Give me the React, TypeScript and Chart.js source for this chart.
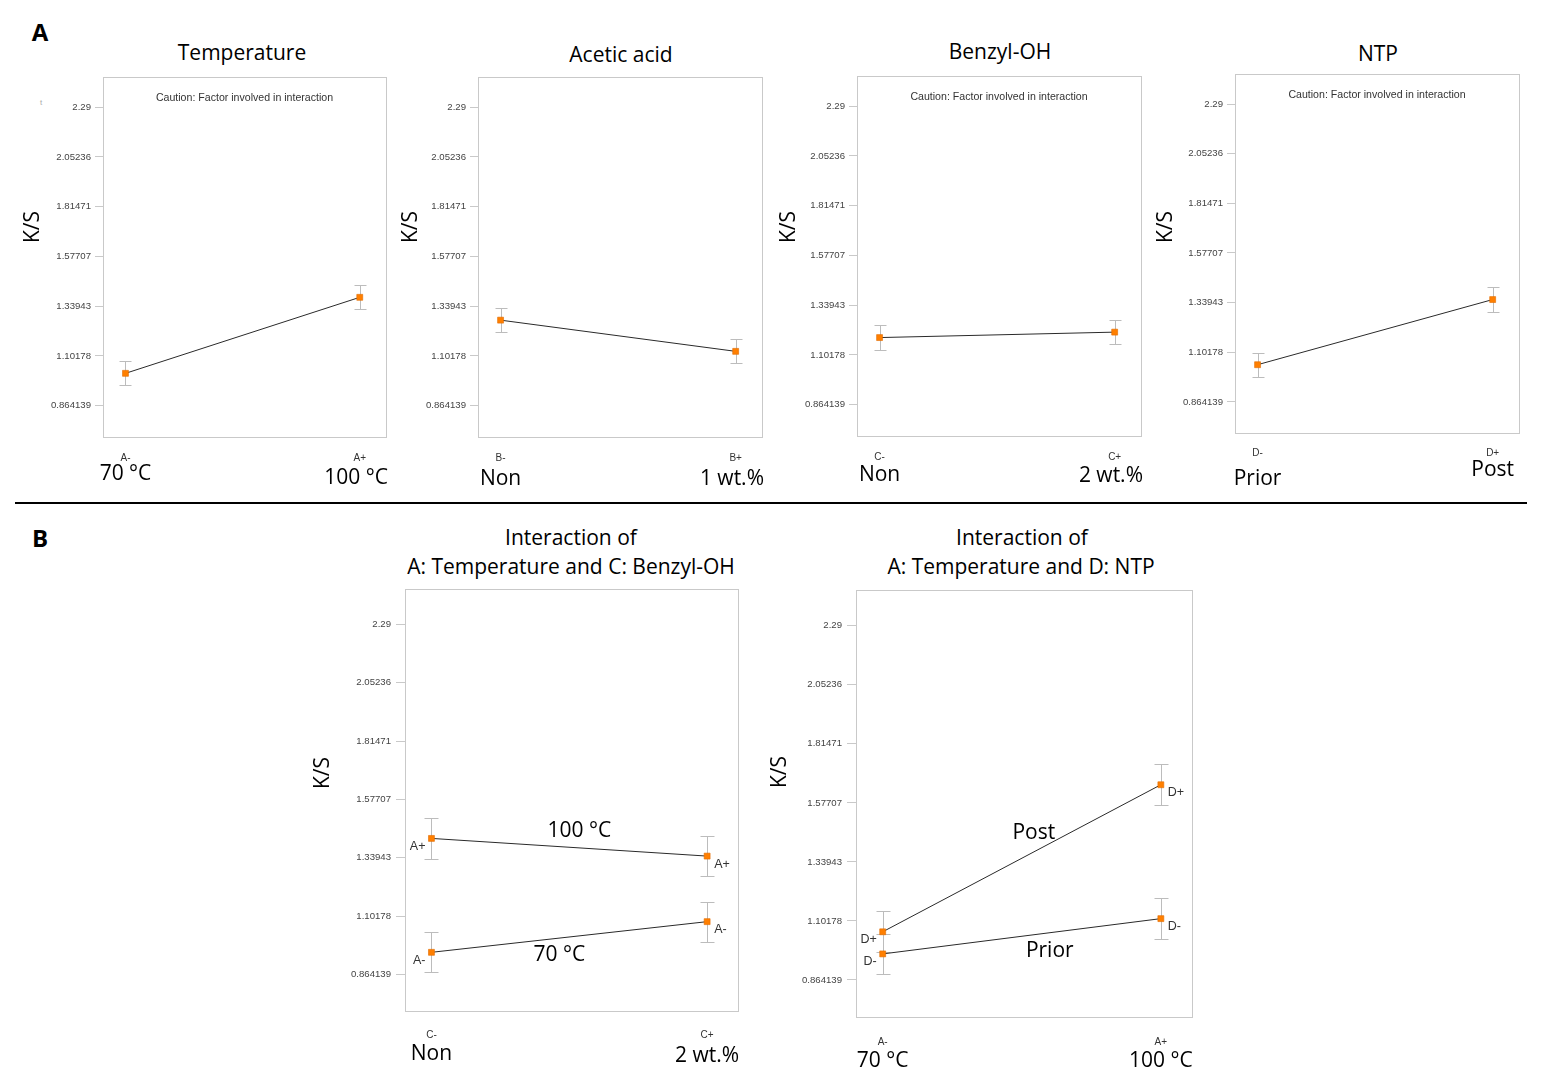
import React, { useEffect, useRef } from 'react';
import { Chart, registerables } from 'chart.js';

Chart.register(...registerables);

// ---------------- data ----------------
const yTickValues = [0.864139, 1.10178, 1.33943, 1.57707, 1.81471, 2.05236, 2.29];
const yTickLabels = ['0.864139', '1.10178', '1.33943', '1.57707', '1.81471', '2.05236', '2.29'];
const yMin = 0.715;
const yMax = 2.434;

const temperatureLevels = ['A-', 'A+'];
const temperatureNames = ['70 °C', '100 °C'];
const temperatureKS = [1.019, 1.382];
const temperatureErr = [0.058, 0.058];

const aceticLevels = ['B-', 'B+'];
const aceticNames = ['Non', '1 wt.%'];
const aceticKS = [1.273, 1.124];
const aceticErr = [0.058, 0.058];

const benzylLevels = ['C-', 'C+'];
const benzylNames = ['Non', '2 wt.%'];
const benzylKS = [1.185, 1.211];
const benzylErr = [0.058, 0.058];

const ntpLevels = ['D-', 'D+'];
const ntpNames = ['Prior', 'Post'];
const ntpKS = [1.042, 1.354];
const ntpErr = [0.058, 0.058];

// Interaction A x C (x axis: C-, C+)
const acHighTempKS = [1.418, 1.346]; // A+
const acLowTempKS = [0.954, 1.079]; // A-
const acErr = [0.082, 0.082];

// Interaction A x D (x axis: A-, A+)
const adPostKS = [1.058, 1.65]; // D+
const adPriorKS = [0.969, 1.111]; // D-
const adErr = [0.082, 0.082];

const cautionText = 'Caution: Factor involved in interaction';

// ---------------- layout ----------------
const PAD_L = 100;
const PAD_R = 22;
const PAD_T = 12;
const PAD_B = 72;
const FONT_BIG = '"Open Sans", "Noto Sans", sans-serif';
const FONT_SMALL = '"Liberation Sans", Arial, sans-serif';

type Series = {
  values: number[];
  errors: number[];
  tags?: string[];
  lineTag?: string;
  lineDx?: number;
  lineDy?: number;
};

type PanelCfg = {
  key: string;
  box: { left: number; top: number; w: number; h: number };
  levels: string[];
  names: string[];
  series: Series[];
  caution: boolean;
  ksX: number;
  ksY: number;
  xTickPad: number;
  bigDy: number[];
  yTickLen: number;
  yTickPad: number;
  cap: number;
};

const panels: PanelCfg[] = [
  {
    key: 'temp', box: { left: 103, top: 77, w: 283, h: 360 }, levels: temperatureLevels, names: temperatureNames,
    series: [{ values: temperatureKS, errors: temperatureErr }], caution: true, ksX: 33, ksY: 227,
    xTickPad: 15, bigDy: [37, 41], yTickLen: 8, yTickPad: 4, cap: 6,
  },
  {
    key: 'acetic', box: { left: 478, top: 77, w: 284, h: 360 }, levels: aceticLevels, names: aceticNames,
    series: [{ values: aceticKS, errors: aceticErr }], caution: false, ksX: 411, ksY: 227,
    xTickPad: 15, bigDy: [42, 42], yTickLen: 8, yTickPad: 4, cap: 6,
  },
  {
    key: 'benzyl', box: { left: 857, top: 76, w: 284, h: 360 }, levels: benzylLevels, names: benzylNames,
    series: [{ values: benzylKS, errors: benzylErr }], caution: true, ksX: 789, ksY: 227,
    xTickPad: 15, bigDy: [39, 40], yTickLen: 8, yTickPad: 4, cap: 6,
  },
  {
    key: 'ntp', box: { left: 1235, top: 74, w: 284, h: 359 }, levels: ntpLevels, names: ntpNames,
    series: [{ values: ntpKS, errors: ntpErr }], caution: true, ksX: 1166, ksY: 227,
    xTickPad: 14, bigDy: [46, 37], yTickLen: 8, yTickPad: 4, cap: 6,
  },
  {
    key: 'ac', box: { left: 405, top: 589, w: 333, h: 422 }, levels: benzylLevels, names: benzylNames,
    series: [
      { values: acHighTempKS, errors: acErr, tags: [temperatureLevels[1], temperatureLevels[1]], lineTag: temperatureNames[1], lineDx: 10, lineDy: -16 },
      { values: acLowTempKS, errors: acErr, tags: [temperatureLevels[0], temperatureLevels[0]], lineTag: temperatureNames[0], lineDx: -10, lineDy: 18 },
    ],
    caution: false, ksX: 323, ksY: 773, xTickPad: 18, bigDy: [43, 45], yTickLen: 9, yTickPad: 5, cap: 7,
  },
  {
    key: 'ad', box: { left: 856, top: 590, w: 336, h: 427 }, levels: temperatureLevels, names: temperatureNames,
    series: [
      { values: adPostKS, errors: adErr, tags: [ntpLevels[1], ntpLevels[1]], lineTag: ntpNames[1], lineDx: 12, lineDy: -25 },
      { values: adPriorKS, errors: adErr, tags: [ntpLevels[0], ntpLevels[0]], lineTag: ntpNames[0], lineDx: 28, lineDy: 15 },
    ],
    caution: false, ksX: 780, ksY: 772, xTickPad: 19, bigDy: [44, 44], yTickLen: 9, yTickPad: 5, cap: 7,
  },
];

// ---------------- plugin ----------------
const decorPlugin = {
  id: 'decor',
  beforeDatasetsDraw(chart: any, _args: any, opts: any) {
    const { ctx, chartArea: a, scales } = chart;
    const ys = scales.y;
    ctx.save();
    ctx.strokeStyle = '#c9c9c9';
    ctx.lineWidth = 1;
    ctx.strokeRect(Math.round(a.left) + 0.5, Math.round(a.top) + 0.5, Math.round(a.right - a.left), Math.round(a.bottom - a.top));
    ctx.strokeStyle = '#bcbcbc';
    chart.data.datasets.forEach((ds: any, di: number) => {
      const meta = chart.getDatasetMeta(di);
      meta.data.forEach((pt: any, i: number) => {
        const v = ds.data[i].y;
        const e = ds.errors[i];
        const t = Math.round(ys.getPixelForValue(v + e)) + 0.5;
        const b = Math.round(ys.getPixelForValue(v - e)) + 0.5;
        const x = Math.round(pt.x) + 0.5;
        ctx.beginPath();
        ctx.moveTo(x, t);
        ctx.lineTo(x, b);
        ctx.moveTo(x - opts.cap, t);
        ctx.lineTo(x + opts.cap, t);
        ctx.moveTo(x - opts.cap, b);
        ctx.lineTo(x + opts.cap, b);
        ctx.stroke();
      });
    });
    ctx.restore();
  },
  afterDatasetsDraw(chart: any, _args: any, opts: any) {
    const { ctx, chartArea: a, scales } = chart;
    const xs = scales.x;
    ctx.save();
    // caution text
    if (opts.caution) {
      ctx.font = `10.6px ${FONT_SMALL}`;
      ctx.fillStyle = '#333';
      ctx.textAlign = 'center';
      ctx.textBaseline = 'middle';
      ctx.fillText(cautionText, (a.left + a.right) / 2, a.top + 21);
    }
    // point tags and line tags
    chart.data.datasets.forEach((ds: any, di: number) => {
      const meta = chart.getDatasetMeta(di);
      if (ds.tags) {
        ctx.font = `12.5px ${FONT_SMALL}`;
        ctx.fillStyle = '#333';
        ctx.textBaseline = 'middle';
        meta.data.forEach((pt: any, i: number) => {
          if (i === 0) {
            ctx.textAlign = 'right';
            ctx.fillText(ds.tags[i], pt.x - 6, pt.y + 8);
          } else {
            ctx.textAlign = 'left';
            ctx.fillText(ds.tags[i], pt.x + 7, pt.y + 8);
          }
        });
      }
      if (ds.lineTag) {
        const p0 = meta.data[0];
        const p1 = meta.data[meta.data.length - 1];
        ctx.font = `21px ${FONT_BIG}`;
        ctx.fillStyle = '#000';
        ctx.textAlign = 'center';
        ctx.textBaseline = 'middle';
        ctx.fillText(ds.lineTag, (p0.x + p1.x) / 2 + ds.lineDx, (p0.y + p1.y) / 2 + ds.lineDy);
      }
    });
    // big level names under the small tick labels
    ctx.font = `21px ${FONT_BIG}`;
    ctx.fillStyle = '#000';
    ctx.textAlign = 'center';
    ctx.textBaseline = 'middle';
    opts.names.forEach((name: string, i: number) => {
      const px = xs.getPixelForValue(i);
      const w = ctx.measureText(name).width;
      const cx = Math.min(px + w / 2, a.right + 2) - w / 2;
      ctx.fillText(name, cx, a.bottom + opts.bigDy[i]);
    });
    // K/S axis title
    ctx.translate(opts.ksX, opts.ksY);
    ctx.rotate(-Math.PI / 2);
    ctx.font = `21px ${FONT_BIG}`;
    ctx.fillStyle = '#000';
    ctx.textAlign = 'center';
    ctx.textBaseline = 'middle';
    ctx.fillText('K/S', 0, 0);
    ctx.restore();
  },
};

function buildConfig(cfg: PanelCfg): any {
  const originX = cfg.box.left - PAD_L;
  const originY = cfg.box.top - PAD_T;
  return {
    type: 'line',
    data: {
      datasets: cfg.series.map((s) => ({
        data: s.values.map((v, i) => ({ x: i, y: v })),
        errors: s.errors,
        tags: s.tags,
        lineTag: s.lineTag,
        lineDx: s.lineDx,
        lineDy: s.lineDy,
        borderColor: '#2a2a2a',
        borderWidth: 1,
        tension: 0,
        pointStyle: 'rect',
        pointRadius: 4.2,
        pointBackgroundColor: '#ff7f00',
        pointBorderColor: '#e06c00',
        pointBorderWidth: 0.6,
      })),
    },
    options: {
      animation: false,
      responsive: false,
      events: [],
      layout: { autoPadding: false, padding: { left: 0, top: PAD_T, right: PAD_R, bottom: 0 } },
      plugins: {
        legend: { display: false },
        tooltip: { enabled: false },
        title: { display: false },
        decor: {
          caution: cfg.caution,
          names: cfg.names,
          bigDy: cfg.bigDy,
          ksX: cfg.ksX - originX,
          ksY: cfg.ksY - originY,
          cap: cfg.cap,
        },
      },
      scales: {
        x: {
          type: 'linear',
          min: -0.096,
          max: 1.112,
          grid: { display: false, drawTicks: false },
          border: { display: false },
          afterBuildTicks: (scale: any) => {
            scale.ticks = cfg.levels.map((_, i) => ({ value: i }));
          },
          afterFit: (scale: any) => {
            scale.height = PAD_B;
          },
          ticks: {
            autoSkip: false,
            maxRotation: 0,
            padding: cfg.xTickPad,
            color: '#333',
            font: { family: FONT_SMALL, size: 10 },
            callback: (v: number) => cfg.levels[Math.round(v)],
          },
        },
        y: {
          type: 'linear',
          min: yMin,
          max: yMax,
          grid: { drawOnChartArea: false, tickLength: cfg.yTickLen, color: '#c9c9c9' },
          border: { display: false },
          afterBuildTicks: (scale: any) => {
            scale.ticks = yTickValues.map((v) => ({ value: v }));
          },
          afterFit: (scale: any) => {
            scale.width = PAD_L;
          },
          ticks: {
            autoSkip: false,
            padding: cfg.yTickPad,
            color: '#444',
            font: { family: FONT_SMALL, size: 9.6 },
            callback: (_v: number, i: number) => yTickLabels[i],
          },
        },
      },
    },
    plugins: [decorPlugin],
  };
}

function Panel({ cfg }: { cfg: PanelCfg }) {
  const ref = useRef<HTMLCanvasElement>(null);
  const W = cfg.box.w + PAD_L + PAD_R;
  const H = cfg.box.h + PAD_T + PAD_B;
  useEffect(() => {
    const chart = new Chart(ref.current as HTMLCanvasElement, buildConfig(cfg));
    return () => chart.destroy();
  }, []);
  return (
    <canvas
      ref={ref}
      width={W}
      height={H}
      style={{ position: 'absolute', left: cfg.box.left - PAD_L, top: cfg.box.top - PAD_T, width: W, height: H }}
    />
  );
}

type TextItem = { text: string; x: number; y: number };
const titles: TextItem[] = [
  { text: 'Temperature', x: 242, y: 52 },
  { text: 'Acetic acid', x: 621, y: 54 },
  { text: 'Benzyl-OH', x: 1000, y: 51 },
  { text: 'NTP', x: 1378, y: 53 },
  { text: 'Interaction of', x: 571, y: 537 },
  { text: 'A: Temperature and C: Benzyl-OH', x: 571, y: 566 },
  { text: 'Interaction of', x: 1022, y: 537 },
  { text: 'A: Temperature and D: NTP', x: 1021, y: 566 },
];

function Label({ item, style }: { item: TextItem; style?: React.CSSProperties }) {
  return (
    <div
      style={{
        position: 'absolute',
        left: item.x,
        top: item.y,
        transform: 'translate(-50%, -50%)',
        whiteSpace: 'nowrap',
        fontFamily: FONT_BIG,
        fontSize: 21,
        lineHeight: 1,
        color: '#000',
        ...style,
      }}
    >
      {item.text}
    </div>
  );
}

export default function App() {
  return (
    <div
      style={{
        position: 'absolute',
        left: 0,
        top: 0,
        width: 1549,
        height: 1091,
        background: '#fff',
        overflow: 'hidden',
      }}
    >
      <Label item={{ text: 'A', x: 40, y: 32 }} style={{ fontWeight: 700, fontSize: 24 }} />
      <Label item={{ text: 'B', x: 40, y: 538 }} style={{ fontWeight: 700, fontSize: 24 }} />
      <Label item={{ text: 't', x: 41, y: 103 }} style={{ fontFamily: FONT_SMALL, fontSize: 8, color: '#aaa' }} />
      <div style={{ position: 'absolute', left: 15, top: 502, width: 1512, height: 2, background: '#000' }} />
      {titles.map((t, i) => (
        <Label key={i} item={t} />
      ))}
      {panels.map((p) => (
        <Panel key={p.key} cfg={p} />
      ))}
    </div>
  );
}
